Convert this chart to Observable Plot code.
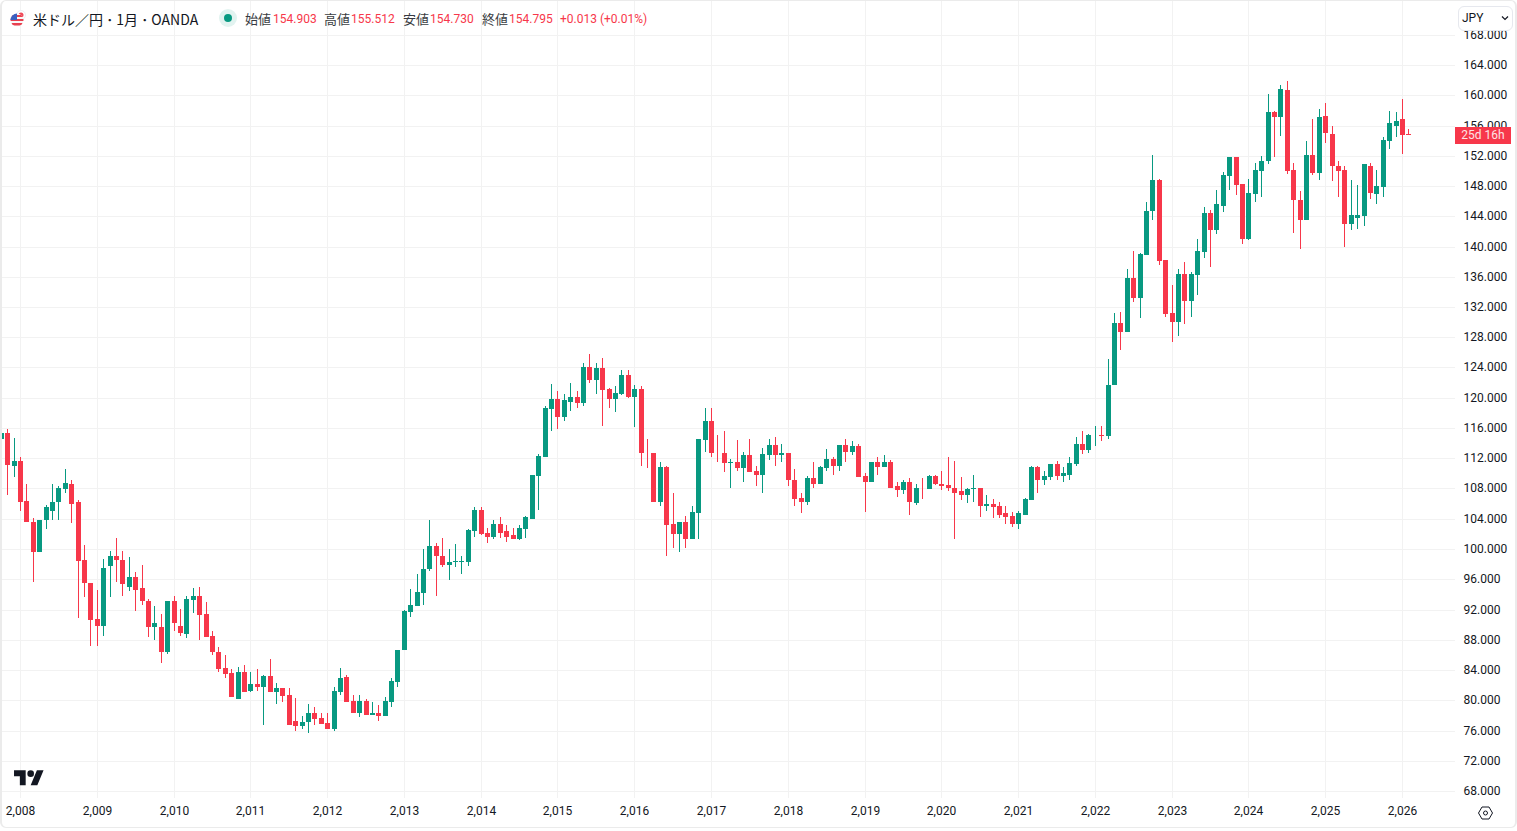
<!DOCTYPE html>
<html lang="ja">
<head>
<meta charset="utf-8">
<title>米ドル／円 1月 OANDA</title>
<script src="https://cdn.jsdelivr.net/npm/d3@7"></script>
<script src="https://cdn.jsdelivr.net/npm/@observablehq/plot@0.6"></script>
<style>
    html, body { margin: 0; padding: 0; background: #fff; overflow: hidden; }
    #page { position: relative; width: 1517px; height: 831px; font-family: Roboto, "Noto Sans CJK JP", sans-serif; color: #131722; }
    #chart svg { display: block; }
    #frame { position: absolute; left: 0; top: 0; width: 1513px; height: 826px; border: solid #ebebeb; border-width: 1px 2px 1px 2px; border-radius: 6px; pointer-events: none; }
    .legend { position: absolute; top: 11px; font-size: 12.5px; line-height: 16px; white-space: nowrap; }
    .legend.num { color: #f7374a; font-size: 12px; }
    .legend.kanji { font-family: "Noto Sans CJK JP", sans-serif; color: #131722; font-size: 13px; opacity: .85; }
    #symbol { position: absolute; left: 33px; top: 9px; font-family: "Noto Sans CJK JP", sans-serif; font-size: 14px; line-height: 20px; white-space: nowrap; }
    #currency { position: absolute; left: 1458px; top: 6px; width: 53px; height: 23px; background: #fff; border: 1px solid #e6e8ee; border-radius: 6px; font-size: 12px; line-height: 23px; }
    #currency span { margin-left: 3px; }
    #axis-cover { position: absolute; left: 1456px; top: 0; width: 59px; height: 31px; background: #fff; }
    #countdown { position: absolute; left: 1455px; top: 127px; width: 56px; height: 17px; background: #f7374a; color: #fde3e5; font-size: 12px; line-height: 17px; text-align: center; }
</style>
</head>
<body>
<div id="page">
    <div id="chart"></div>
    <div id="axis-cover"></div>
    <div id="frame"></div>

    <!-- flag -->
    <svg style="position:absolute;left:9px;top:9px" width="18" height="20" viewBox="0 0 18 20">
        <circle cx="12" cy="6" r="4.5" fill="#fff" stroke="#eceff5"/>
        <circle cx="12" cy="6" r="2.5" fill="#ef4a5a"/>
        <clipPath id="flag-clip"><circle cx="8" cy="11" r="6.5"/></clipPath>
        <g clip-path="url(#flag-clip)">
            <rect x="0" y="4" width="16" height="14" fill="#f8f8f8"/>
            <rect x="0" y="6" width="16" height="2" fill="#e8404f"/>
            <rect x="0" y="10" width="16" height="2" fill="#e8404f"/>
            <rect x="0" y="14" width="16" height="2.5" fill="#e8404f"/>
            <rect x="0" y="4" width="8" height="7" fill="#3a5fc0"/>
        </g>
    </svg>
    <div id="symbol">米ドル／円 ･ 1月 ･ OANDA</div>

    <!-- market status -->
    <svg style="position:absolute;left:219px;top:9px" width="18" height="18">
        <circle cx="9" cy="9" r="9" fill="#e2f3f0"/>
        <circle cx="9" cy="9" r="4" fill="#089981"/>
    </svg>

    <div class="legend kanji" style="left:245px">始値</div>
    <div class="legend num" style="left:273px">154.903</div>
    <div class="legend kanji" style="left:324px">高値</div>
    <div class="legend num" style="left:351px">155.512</div>
    <div class="legend kanji" style="left:403px">安値</div>
    <div class="legend num" style="left:430px">154.730</div>
    <div class="legend kanji" style="left:482px">終値</div>
    <div class="legend num" style="left:509px">154.795</div>
    <div class="legend num" style="left:560px">+0.013 (+0.01%)</div>

    <div id="currency"><span>JPY</span></div>
    <svg style="position:absolute;left:1501px;top:15px" width="8" height="6" viewBox="0 0 8 6">
        <path d="M1 1.5 L4 4.5 L7 1.5" fill="none" stroke="#131722" stroke-width="1.2"/>
    </svg>

    <div id="countdown">25d 16h</div>

    <!-- watermark -->
    <svg style="position:absolute;left:14px;top:767px" width="30" height="23.3" viewBox="0 0 36 28">
        <path d="M14 22H7V11H0V4h14v18zM28 22h-8l7.5-18h8L28 22z" fill="#131722"/>
        <circle cx="20" cy="8" r="4" fill="#131722"/>
    </svg>

    <!-- settings -->
    <svg style="position:absolute;left:1477px;top:805px" width="17" height="16" viewBox="0 0 17 16">
        <path d="M1.5 8 L5 2 H12 L15.5 8 L12 14 H5 Z" fill="none" stroke="#131722" stroke-width="1"/>
        <circle cx="8.5" cy="8" r="2" fill="none" stroke="#131722" stroke-width="1"/>
    </svg>
</div>

<script>
// Monthly USD/JPY candles, first one is 2007-10. Values.
const opens = [
    114.61, 115.40, 110.91,
    111.70, 106.41, 103.63, 99.54, 103.77, 105.09, 106.15, 107.87, 108.53, 106.15, 98.61, 95.57,
    90.68, 89.88, 97.69, 99.01, 98.61, 95.04, 96.36, 94.78, 93.19, 89.62, 89.75, 86.32,
    93.06, 89.88, 88.70, 93.32, 93.85, 91.34, 88.43, 86.32, 84.20, 83.54, 80.23, 83.67,
    81.16, 82.09, 81.69, 83.15, 81.03, 81.56, 80.63, 77.20, 76.53, 77.06, 78.25, 77.59,
    76.93, 76.14, 81.03, 83.01, 79.84, 78.25, 79.84, 77.99, 78.38, 77.86, 79.71, 82.35,
    86.58, 91.61, 92.40, 94.12, 97.29, 100.46, 99.14, 97.82, 98.22, 98.22, 98.22, 102.32,
    105.22, 102.05, 101.65, 103.24, 102.32, 101.79, 101.26, 102.71, 104.03, 109.59, 112.23, 118.45,
    119.90, 117.39, 119.50, 120.16, 119.24, 124.13, 122.41, 123.87, 121.22, 119.77, 120.56, 123.07,
    120.16, 121.22, 112.72, 112.63, 106.28, 110.78, 103.24, 101.92, 103.51, 101.26, 104.70, 114.35,
    116.99, 112.76, 112.76, 111.31, 111.57, 110.65, 112.37, 110.25, 109.85, 112.37, 113.69, 112.37,
    112.76, 109.19, 106.68, 106.15, 109.33, 108.66, 110.65, 111.84, 111.04, 113.69, 112.89, 113.56,
    109.59, 108.80, 111.44, 110.78, 111.44, 108.27, 107.74, 108.80, 106.02, 108.13, 107.87, 109.59,
    108.66, 108.40, 108.13, 107.61, 107.08, 107.87, 108.00, 105.75, 105.89, 105.62, 104.70, 104.30,
    103.24, 104.56, 106.42, 110.78, 109.19, 109.46, 111.18, 109.59, 109.85, 111.18, 113.95, 113.03,
    115.01, 115.14, 114.88, 121.62, 129.82, 128.63, 135.77, 133.13, 138.81, 144.63, 148.73, 138.15,
    131.15, 129.96, 136.30, 132.73, 136.17, 139.21, 144.37, 142.12, 145.42, 149.26, 151.77, 148.20,
    140.93, 146.88, 149.92, 151.24, 157.85, 157.19, 160.76, 150.05, 146.09, 143.57, 152.04, 149.66,
    157.32, 154.94, 150.71, 150.05, 142.91, 143.71, 143.97, 150.71, 146.88, 147.81, 153.89, 156.00,
    156.80, 154.903
];
const highs = [
    115.60, 115.93, 114.74,
    112.10, 108.66, 104.16, 103.90, 105.88, 108.66, 108.39, 110.64, 109.19, 106.54, 100.59, 95.57,
    94.64, 98.74, 99.67, 101.52, 99.80, 98.88, 97.02, 97.82, 93.45, 92.40, 91.34, 93.19,
    93.85, 92.13, 93.72, 94.78, 95.04, 92.93, 89.22, 86.98, 85.92, 84.07, 84.46, 84.60,
    83.67, 84.07, 83.28, 85.52, 82.22, 81.56, 81.56, 80.24, 77.86, 79.57, 79.05, 78.25,
    78.25, 81.69, 84.20, 83.28, 80.63, 80.63, 80.10, 79.71, 79.31, 80.37, 82.88, 86.71,
    91.87, 94.65, 96.76, 99.94, 103.77, 100.73, 101.52, 99.94, 100.60, 99.01, 102.58, 105.49,
    105.49, 102.84, 103.77, 104.17, 103.11, 102.84, 103.11, 104.30, 109.85, 112.50, 118.97, 121.88,
    120.83, 120.56, 122.01, 120.83, 124.53, 125.85, 124.66, 125.32, 121.35, 121.49, 123.73, 123.73,
    121.75, 121.49, 114.61, 112.63, 111.44, 110.91, 107.47, 103.51, 104.30, 105.62, 114.61, 118.71,
    118.58, 115.01, 115.54, 111.84, 114.35, 112.89, 114.48, 111.04, 113.29, 114.48, 114.75, 113.82,
    112.76, 110.52, 107.34, 109.59, 111.44, 110.91, 113.16, 112.23, 113.69, 114.61, 114.22, 113.82,
    109.99, 111.57, 112.23, 112.37, 111.71, 108.80, 109.06, 109.33, 108.53, 109.33, 109.72, 109.72,
    110.38, 112.23, 111.70, 109.46, 108.13, 109.85, 108.13, 107.08, 106.55, 106.15, 105.75, 104.83,
    104.96, 106.68, 111.04, 110.91, 110.25, 111.18, 111.70, 110.78, 112.10, 114.75, 115.54, 115.27,
    116.33, 116.33, 125.19, 131.27, 131.40, 137.09, 139.47, 139.08, 145.95, 152.04, 148.86, 138.15,
    134.85, 136.96, 137.89, 136.57, 140.93, 145.16, 144.89, 147.41, 149.79, 151.77, 151.90, 148.33,
    148.86, 150.98, 152.03, 160.23, 157.98, 161.29, 161.95, 150.98, 147.28, 153.89, 156.80, 158.12,
    158.91, 155.87, 151.37, 150.58, 148.73, 148.07, 150.85, 150.98, 150.05, 154.42, 157.98, 157.85,
    159.44, 155.512
];
const lows = [
    114.40, 107.20, 109.58,
    104.96, 103.63, 95.70, 99.54, 102.58, 103.90, 103.77, 107.34, 103.50, 90.94, 93.59, 87.11,
    87.11, 88.56, 93.59, 95.70, 93.85, 94.51, 91.74, 92.53, 88.30, 88.03, 84.86, 86.18,
    89.22, 88.56, 88.17, 91.60, 88.03, 88.30, 85.92, 83.67, 82.88, 80.37, 80.23, 81.03,
    81.03, 81.16, 76.67, 81.03, 79.57, 79.71, 76.67, 76.00, 76.14, 75.61, 76.67, 76.80,
    76.14, 76.00, 80.63, 79.71, 78.25, 77.72, 77.99, 77.99, 77.20, 77.86, 79.05, 81.69,
    86.58, 90.95, 92.40, 92.66, 97.03, 93.85, 97.56, 95.84, 97.56, 96.63, 97.69, 101.65,
    101.79, 100.73, 101.26, 101.39, 100.86, 101.26, 101.13, 101.52, 104.03, 105.22, 112.23, 115.54,
    115.93, 116.86, 118.31, 118.58, 118.97, 122.01, 120.43, 116.20, 118.58, 118.05, 120.30, 120.03,
    116.07, 111.04, 110.65, 106.28, 105.62, 99.01, 100.07, 99.54, 100.07, 101.26, 101.26, 112.89,
    112.10, 111.57, 110.12, 108.13, 110.25, 108.80, 110.12, 108.27, 107.34, 111.71, 110.91, 111.44,
    108.27, 105.62, 104.70, 105.76, 108.13, 108.66, 110.25, 109.85, 110.38, 111.44, 112.37, 109.46,
    104.83, 108.80, 109.72, 110.78, 108.13, 106.81, 107.21, 104.43, 105.76, 106.55, 107.87, 108.40,
    107.74, 107.61, 101.26, 106.42, 106.02, 106.15, 104.17, 105.09, 104.04, 104.04, 103.24, 102.85,
    102.58, 104.43, 106.42, 107.47, 108.40, 109.19, 109.06, 108.80, 109.19, 110.91, 112.50, 112.63,
    113.56, 114.22, 114.61, 121.62, 126.38, 128.63, 132.60, 130.48, 138.81, 143.57, 137.49, 130.62,
    127.31, 128.10, 129.69, 130.62, 133.53, 138.42, 137.23, 141.59, 144.50, 147.41, 146.75, 140.27,
    140.80, 145.95, 146.48, 150.85, 151.90, 154.55, 149.65, 141.72, 139.61, 143.57, 149.52, 148.73,
    153.75, 148.60, 146.61, 139.87, 142.12, 142.38, 142.65, 146.22, 145.56, 146.61, 152.83, 154.42,
    152.17, 154.73
];
const closes = [
    115.40, 111.17, 111.70,
    106.28, 103.63, 99.54, 103.90, 105.49, 106.28, 108.00, 108.79, 106.01, 98.35, 95.44, 90.55,
    89.88, 97.55, 99.01, 98.48, 95.31, 96.36, 94.64, 93.06, 89.62, 90.15, 86.32, 93.06,
    90.15, 88.83, 93.45, 93.85, 91.21, 88.30, 86.32, 84.07, 83.41, 80.37, 83.67, 81.03,
    82.09, 81.69, 83.15, 81.03, 81.56, 80.50, 76.67, 76.53, 77.06, 78.25, 77.46, 76.80,
    76.14, 81.16, 82.88, 79.71, 78.25, 79.84, 77.99, 78.38, 77.86, 79.84, 82.48, 86.71,
    91.74, 92.53, 94.25, 97.42, 100.46, 99.01, 97.82, 98.22, 98.35, 98.35, 102.45, 105.22,
    101.92, 101.65, 103.24, 102.18, 101.65, 101.26, 102.84, 104.17, 109.72, 112.36, 118.58, 119.90,
    117.39, 119.64, 120.16, 119.24, 124.13, 122.41, 123.87, 121.09, 119.77, 120.69, 123.07, 120.16,
    121.22, 112.63, 112.63, 106.28, 110.78, 103.11, 101.92, 103.51, 101.26, 104.83, 114.48, 116.99,
    112.63, 112.63, 111.31, 111.57, 110.65, 112.37, 110.12, 109.85, 112.50, 113.69, 112.37, 112.76,
    109.06, 106.55, 106.15, 109.33, 108.66, 110.78, 111.84, 111.04, 113.69, 112.89, 113.56, 109.46,
    108.80, 111.44, 110.78, 111.44, 108.13, 107.74, 108.80, 106.15, 108.13, 108.00, 109.59, 108.53,
    108.27, 108.00, 107.47, 107.08, 107.87, 108.00, 105.75, 105.89, 105.49, 104.56, 104.17, 103.24,
    104.70, 106.55, 110.78, 109.19, 109.59, 111.18, 109.59, 109.99, 111.31, 113.95, 113.03, 115.14,
    115.14, 114.88, 121.75, 129.82, 128.63, 135.77, 133.13, 138.95, 144.76, 148.73, 138.02, 131.01,
    129.96, 136.30, 132.73, 136.30, 139.34, 144.37, 142.12, 145.56, 149.39, 151.77, 148.07, 140.93,
    147.01, 150.05, 151.37, 157.85, 157.19, 160.89, 149.92, 146.09, 143.57, 152.04, 149.66, 157.19,
    155.07, 150.58, 149.92, 142.91, 144.10, 144.10, 150.85, 147.01, 147.94, 154.02, 156.27, 156.66,
    154.68, 154.795
];

const yearLabels = d3.range(2008, 2027);
const priceTicks = d3.range(68, 169, 4);
const monthsBeforeFirstYear = 3; // 2007-10 .. 2007-12

const upColor = "#089981";
const downColor = "#f7374a";
const gridColor = "#f2f2f2";

const candles = opens.map((open, i) => ({
    month: i,
    open,
    high: highs[i],
    low: lows[i],
    close: closes[i],
}));

// candles sit at equal spacing, so the x scale runs on the month number
const yearTicks = yearLabels.map((year, i) => monthsBeforeFirstYear + i * 12);
const yearByTick = new Map(yearTicks.map((tick, i) => [tick, yearLabels[i]]));

const candleColor = (d) => (d.close >= d.open ? upColor : downColor);

const plot = Plot.plot({
    width: 1517,
    height: 831,
    marginLeft: 0,
    marginRight: 62,
    marginTop: 0,
    marginBottom: 33,
    style: {
        fontFamily: "Roboto, sans-serif",
        fontSize: "12px",
        color: "#131722",
        background: "transparent",
    },
    x: {
        type: "linear",
        domain: [monthsBeforeFirstYear, monthsBeforeFirstYear + 18 * 12],
        range: [20, 1402],
        round: true,
        label: null,
    },
    y: {
        type: "linear",
        domain: [68, 168],
        range: [791, 34.75],
        round: true,
        label: null,
    },
    marks: [
        Plot.gridX(yearTicks, { stroke: gridColor, strokeOpacity: 1 }),
        Plot.gridY(priceTicks, { stroke: gridColor, strokeOpacity: 1 }),
        Plot.axisX(yearTicks, {
            anchor: "bottom",
            tickSize: 0,
            tickPadding: 8,
            tickFormat: (d) => yearByTick.get(d),
            fontSize: 12,
            label: null,
        }),
        Plot.axisY(priceTicks, {
            anchor: "right",
            tickSize: 0,
            tickPadding: 8,
            tickFormat: (d) => d.toFixed(3),
            fontSize: 12,
            label: null,
        }),
        // wick
        Plot.ruleX(candles, {
            x: "month",
            y1: "low",
            y2: "high",
            stroke: candleColor,
            strokeWidth: 1,
        }),
        // body
        Plot.ruleX(candles, {
            x: "month",
            y1: "open",
            y2: "close",
            stroke: candleColor,
            strokeWidth: 5,
        }),
    ],
});

document.getElementById("chart").appendChild(plot);
</script>
</body>
</html>
